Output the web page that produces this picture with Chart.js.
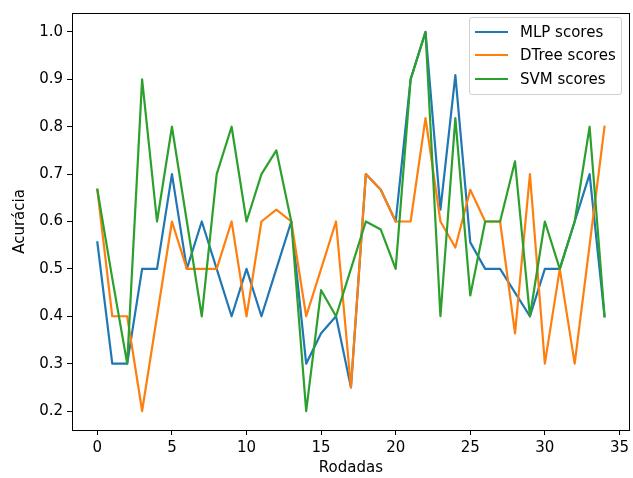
<!DOCTYPE html>
<html>
<head>
<meta charset="utf-8">
<script src="https://cdn.jsdelivr.net/npm/chart.js@4"></script>
<style>
    body { margin: 0; background: #fff; }
    #wrap { position: relative; width: 633px; height: 478px; }
    #legenda {
        position: absolute; left: 469px; top: 17px; width: 151px; height: 74px;
        border: 1px solid #d0d0d0; border-radius: 3px; background: rgba(255,255,255,0.8);
        font-family: 'DejaVu Sans', sans-serif; font-size: 15px; color: #000;
        padding-top: 2px; box-sizing: content-box;
    }
    #legenda .item { display: flex; align-items: center; height: 23.5px; }
    #legenda .linha { display: inline-block; width: 33px; height: 2px; margin-left: 5px; margin-right: 12px; }
</style>
</head>
<body>
<div id="wrap">
    <canvas id="scoresChart" width="633" height="478"></canvas>
    <div id="legenda"></div>
</div>
<script>
// Rodadas (eixo x)
const rodadas = [0, 1, 2, 3, 4, 5, 6, 7, 8, 9, 10, 11, 12, 13, 14, 15, 16, 17,
    18, 19, 20, 21, 22, 23, 24, 25, 26, 27, 28, 29, 30, 31, 32, 33, 34];

// Acurácia de cada modelo por rodada
const mlpScores = [0.556, 0.3, 0.3, 0.5, 0.5, 0.7, 0.5, 0.6, 0.5, 0.4, 0.5, 0.4, 0.5, 0.6,
    0.3, 0.364, 0.4, 0.25, 0.7, 0.667, 0.6, 0.9, 1.0, 0.625, 0.909, 0.556, 0.5, 0.5,
    0.45, 0.4, 0.5, 0.5, 0.6, 0.7, 0.4];
const dtreeScores = [0.667, 0.4, 0.4, 0.2, 0.4, 0.6, 0.5, 0.5, 0.5, 0.6, 0.4, 0.6, 0.625, 0.6,
    0.4, 0.5, 0.6, 0.25, 0.7, 0.667, 0.6, 0.6, 0.818, 0.6, 0.545, 0.667, 0.6, 0.6,
    0.364, 0.7, 0.3, 0.5, 0.3, 0.55, 0.8];
const svmScores = [0.667, 0.48, 0.3, 0.9, 0.6, 0.8, 0.6, 0.4, 0.7, 0.8, 0.6, 0.7, 0.75, 0.6,
    0.2, 0.455, 0.4, 0.5, 0.6, 0.583, 0.5, 0.9, 1.0, 0.4, 0.818, 0.444, 0.6, 0.6,
    0.727, 0.4, 0.6, 0.5, 0.6, 0.8, 0.4];

// Marcas dos eixos
const xTicks = [0, 5, 10, 15, 20, 25, 30, 35];
const yTicks = [0.2, 0.3, 0.4, 0.5, 0.6, 0.7, 0.8, 0.9, 1.0];

const series = [
    { label: 'MLP scores', data: mlpScores, color: '#1f77b4' },
    { label: 'DTree scores', data: dtreeScores, color: '#ff7f0e' },
    { label: 'SVM scores', data: svmScores, color: '#2ca02c' }
];

Chart.defaults.font.family = "'DejaVu Sans', sans-serif";
Chart.defaults.font.size = 15;
Chart.defaults.color = '#000';

// Moldura completa (estilo matplotlib)
const moldura = {
    id: 'moldura',
    afterDraw(chart) {
        const { ctx, chartArea: a } = chart;
        ctx.save();
        ctx.strokeStyle = '#000';
        ctx.lineWidth = 1;
        ctx.strokeRect(Math.round(a.left) + 0.5, Math.round(a.top) + 0.5,
            Math.round(a.right - a.left) - 1, Math.round(a.bottom - a.top));
        ctx.restore();
    }
};

const eixo = (ticks, fmt, size, isX) => ({
    type: 'linear',
    afterBuildTicks: scale => { scale.ticks = ticks.map(v => ({ value: v })); },
    afterFit: scale => { if (isX) scale.height = size; else scale.width = size; },
    border: { display: true, color: '#000', width: 1 },
    grid: { display: true, drawOnChartArea: false, drawTicks: true, tickLength: 5, tickColor: '#000', tickWidth: 1 },
    ticks: { autoSkip: false, maxRotation: 0, padding: 4, color: '#000', callback: fmt }
});

const xScale = eixo(xTicks, v => String(v), 48, true);
xScale.min = -1.7;
xScale.max = 35.7;
xScale.title = { display: true, text: 'Rodadas', padding: { top: 0, bottom: 1 }, color: '#000' };

const yScale = eixo(yTicks, v => v.toFixed(1), 72, false);
yScale.min = 0.16;
yScale.max = 1.04;
yScale.title = { display: true, text: 'Acurácia', padding: { top: 11, bottom: 0 }, color: '#000' };

const ctx = document.getElementById('scoresChart').getContext('2d');
window.scoresChart = new Chart(ctx, {
    type: 'line',
    data: {
        datasets: series.map((s, i) => ({
            label: s.label,
            data: rodadas.map((r, j) => ({ x: r, y: s.data[j] })),
            borderColor: s.color,
            backgroundColor: s.color,
            borderWidth: 2.2,
            borderJoinStyle: 'round',
            borderCapStyle: 'square',
            pointRadius: 0,
            tension: 0,
            fill: false,
            order: series.length - 1 - i
        }))
    },
    options: {
        responsive: false,
        animation: false,
        devicePixelRatio: 1,
        layout: { padding: { left: 0, right: 1, top: 9, bottom: 0 } },
        plugins: { legend: { display: false }, tooltip: { enabled: false } },
        scales: { x: xScale, y: yScale }
    },
    plugins: [moldura]
});

// Legenda em HTML
const legenda = document.getElementById('legenda');
series.forEach(s => {
    const item = document.createElement('div');
    item.className = 'item';
    item.innerHTML = `<span class="linha" style="background:${s.color}"></span><span>${s.label}</span>`;
    legenda.appendChild(item);
});
</script>
</body>
</html>
